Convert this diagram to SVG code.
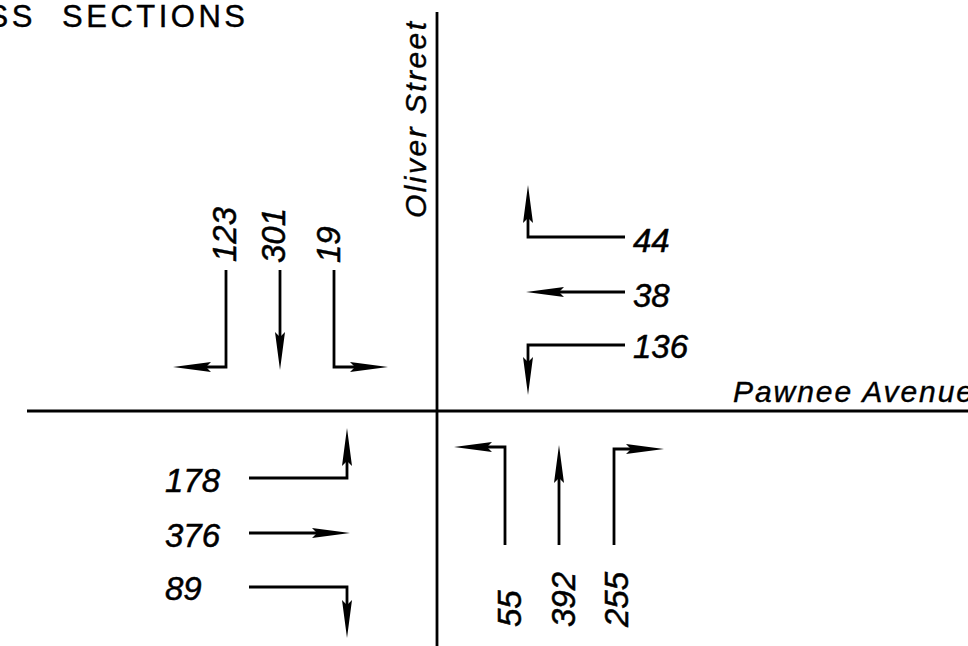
<svg xmlns="http://www.w3.org/2000/svg" width="968" height="646" viewBox="0 0 968 646">
<style>
.road{stroke:#000;stroke-width:2.8;fill:none}
.mv{stroke:#000;stroke-width:2.8;fill:none;marker-end:url(#ah)}
.lbl{font-family:"Liberation Sans",Arial,sans-serif;font-style:italic;font-size:33px;fill:#000;stroke:#000;stroke-width:0.5}
.st{font-family:"Liberation Sans",Arial,sans-serif;font-style:italic;font-size:30px;fill:#000;stroke:#000;stroke-width:0.4}
.title{font-family:"Liberation Sans",Arial,sans-serif;font-size:31px;letter-spacing:3.5px;word-spacing:14px;fill:#000;stroke:#000;stroke-width:0.4}
</style>
<defs>
<marker id="ah" viewBox="0 0 38 12" refX="16" refY="6" markerWidth="38" markerHeight="12" orient="auto" markerUnits="userSpaceOnUse">
<path d="M0,1 L38,6 L0,11 L5,6 Z" fill="#000"/>
</marker>
</defs>
<rect width="968" height="646" fill="#fff"/>
<text class="title" x="248.5" y="27" text-anchor="end">SS SECTIONS</text>
<g id="roads">
<line class="road" x1="437" y1="12" x2="437" y2="646"/>
<line class="road" x1="27" y1="411" x2="968" y2="411"/>
<text class="st" transform="translate(426,218) rotate(-90)" textLength="196" lengthAdjust="spacing">Oliver Street</text>
<text class="st" x="733" y="402" textLength="240" lengthAdjust="spacing">Pawnee Avenue</text>
</g>
<g id="connectors">
<path class="mv" d="M226,270 V367 H195"/>
<path class="mv" d="M280,270 V348"/>
<path class="mv" d="M334,270 V367 H366"/>
<path class="mv" d="M249,478 H347 V450"/>
<path class="mv" d="M249,533 H328"/>
<path class="mv" d="M249,587 H347 V616"/>
<path class="mv" d="M505,545 V447 H476"/>
<path class="mv" d="M559,545 V467"/>
<path class="mv" d="M614,545 V449 H642"/>
<path class="mv" d="M625,237 H528 V207"/>
<path class="mv" d="M625,292 H548"/>
<path class="mv" d="M625,345 H528 V373"/>
</g>
<g id="sb-left"><text class="lbl" transform="translate(236,262) rotate(-90)">123</text></g>
<g id="sb-thru"><text class="lbl" transform="translate(285,263) rotate(-90)">301</text></g>
<g id="sb-right"><text class="lbl" transform="translate(340,263) rotate(-90)">19</text></g>
<g id="eb-left"><text class="lbl" x="165" y="492">178</text></g>
<g id="eb-thru"><text class="lbl" x="165" y="547">376</text></g>
<g id="eb-right"><text class="lbl" x="165" y="600">89</text></g>
<g id="nb-left"><text class="lbl" transform="translate(521,627) rotate(-90)">55</text></g>
<g id="nb-thru"><text class="lbl" transform="translate(575,627) rotate(-90)">392</text></g>
<g id="nb-right"><text class="lbl" transform="translate(628,627) rotate(-90)">255</text></g>
<g id="wb-right"><text class="lbl" x="633" y="252">44</text></g>
<g id="wb-thru"><text class="lbl" x="633" y="307">38</text></g>
<g id="wb-left"><text class="lbl" x="633" y="358">136</text></g>
</svg>
